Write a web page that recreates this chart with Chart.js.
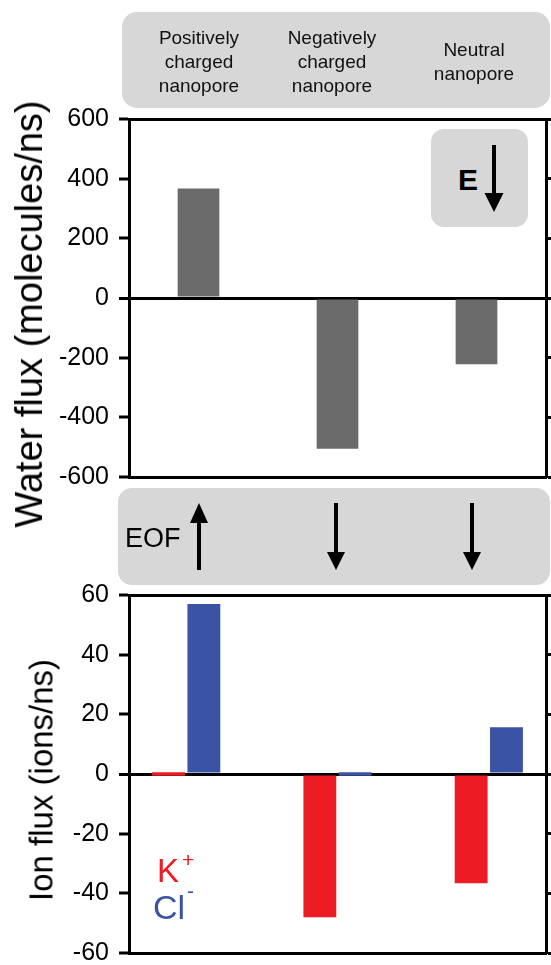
<!DOCTYPE html>
<html><head><meta charset="utf-8">
<script src="https://cdn.jsdelivr.net/npm/chart.js@4"></script>
<style>
html,body{margin:0;padding:0;width:551px;height:965px;overflow:hidden;background:#fff;font-family:"Liberation Sans",Arial,Helvetica,sans-serif;color:#000;}
.box{position:absolute;background:#d7d7d7;}
.abs{position:absolute;white-space:nowrap;}
.cw{position:absolute;left:0;width:551px;}
.lab{position:absolute;width:150px;text-align:center;font-size:19px;line-height:24px;color:#111;}
.rot{position:absolute;white-space:nowrap;transform:translate(-50%,-50%) rotate(-90deg);}
</style></head><body>

<div class="box" style="left:122px;top:12px;width:428px;height:96px;border-radius:15px;"></div>
<div class="box" style="left:118px;top:488px;width:432px;height:97px;border-radius:14px;"></div>

<div class="cw" style="top:0;height:500px;"><canvas id="c1" width="551" height="500"></canvas></div>
<div class="cw" style="top:540px;height:440px;"><canvas id="c2" width="551" height="440"></canvas></div>

<div class="box" style="left:431px;top:129px;width:97px;height:98px;border-radius:13px;"></div>

<div id="labels"></div>

<div class="rot" style="left:28.5px;top:314px;font-size:38px;line-height:38px;">Water flux (molecules/ns)</div>
<div class="rot" style="left:41px;top:780px;font-size:33px;line-height:33px;">Ion flux (ions/ns)</div>

<div class="abs" style="left:468px;top:180px;font-size:30px;line-height:30px;font-weight:bold;transform:translate(-50%,-50%);">E</div>
<div class="abs" style="left:125px;top:524.5px;font-size:27px;line-height:27px;">EOF</div>

<div class="abs" style="left:157px;top:854px;font-size:33px;line-height:33px;color:#ed1c24;">K<span style="position:relative;font-size:21px;top:-15px;left:3px;">+</span></div>
<div class="abs" style="left:153px;top:890px;font-size:34px;line-height:34px;color:#3a53a4;">Cl<span style="position:relative;font-size:21px;top:-21px;left:2px;">-</span></div>

<svg id="arrows" style="position:absolute;left:0;top:0;" width="551" height="965"></svg>

<script>
// ---- data ----
const categories = ['Positively charged nanopore', 'Negatively charged nanopore', 'Neutral nanopore'];
const categoryLines = [['Positively', 'charged', 'nanopore'], ['Negatively', 'charged', 'nanopore'], ['Neutral', 'nanopore']];
const waterFlux = [367, -505, -222];
const kFlux = [0, -48, -36.6];
const clFlux = [57, 0, 15.7];
const waterTicks = [600, 400, 200, 0, -200, -400, -600];
const ionTicks = [60, 40, 20, 0, -20, -40, -60];
const eofDirection = ['up', 'down', 'down'];
const fieldDirection = 'down';

// ---- category labels in the top box ----
const labelCenters = [199, 332, 474];
const labelsDiv = document.getElementById('labels');
categoryLines.forEach((lines, i) => {
  const d = document.createElement('div');
  d.className = 'lab';
  d.title = categories[i];
  d.style.left = (labelCenters[i] - 75) + 'px';
  d.style.top = (62 - lines.length * 12) + 'px';
  d.innerHTML = lines.join('<br>');
  labelsDiv.appendChild(d);
});

const FONT = '"Liberation Sans", Arial, Helvetica, sans-serif';

function yAxis(min, max, tickVals, width) {
  return {
    position: 'left', min, max,
    afterBuildTicks(s) { s.ticks = tickVals.map(v => ({ value: v })); },
    ticks: { font: { size: 25, family: FONT }, color: '#000', padding: 10 },
    grid: {
      drawOnChartArea: true, drawTicks: true, tickLength: 10, tickWidth: 3, tickColor: '#000',
      color: '#000',
      lineWidth: c => (c.tick && c.tick.value === 0) ? 3 : 0
    },
    border: { display: true, color: '#000', width: 3 },
    afterFit(s) { s.width = width; s.paddingTop = 0; s.paddingBottom = 0; }
  };
}
function yRight(min, max, tickVals) {
  return {
    position: 'right', min, max,
    afterBuildTicks(s) { s.ticks = tickVals.map(v => ({ value: v })); },
    ticks: { display: false },
    grid: { drawOnChartArea: false, drawTicks: true, tickLength: 6, tickWidth: 3, tickColor: '#000', color: '#000' },
    border: { display: true, color: '#000', width: 3 },
    afterFit(s) { s.width = 5; s.paddingTop = 0; s.paddingBottom = 0; }
  };
}
function xEdge(pos, h, extra) {
  return Object.assign({
    position: pos,
    grid: { display: false, drawTicks: false },
    ticks: { display: false },
    border: { display: true, color: '#000', width: 3 },
    afterFit(s) { s.height = h; s.paddingLeft = 0; s.paddingRight = 0; }
  }, extra || {});
}

const common = {
  responsive: false, animation: false, maintainAspectRatio: false,
  layout: { padding: 0 },
  plugins: { legend: { display: false }, tooltip: { enabled: false } }
};

// ---- top chart: water flux ----
const chart1 = new Chart(document.getElementById('c1'), {
  type: 'bar',
  data: {
    labels: categories,
    datasets: [{ data: waterFlux, backgroundColor: '#6b6b6b', borderWidth: 0, barPercentage: 0.30, categoryPercentage: 1 }]
  },
  options: Object.assign({}, common, {
    scales: {
      x: xEdge('bottom', 23, { type: 'category' }),
      xTop: xEdge('top', 119, { type: 'category' }),
      y: yAxis(-600, 600, waterTicks, 129),
      yR: yRight(-600, 600, waterTicks)
    }
  })
});

// ---- bottom chart: ion flux ----
const idx = categories.map((c, i) => i);
function linX(pos, h) {
  return xEdge(pos, h, {
    type: 'linear', min: -0.378, max: 2.378, offset: false,
    afterBuildTicks(s) { s.ticks = idx.map(v => ({ value: v })); }
  });
}
const chart2 = new Chart(document.getElementById('c2'), {
  type: 'bar',
  data: {
    datasets: [
      { label: 'K+', data: kFlux.map((v, i) => ({ x: i, y: v })), backgroundColor: '#ed1c24', borderWidth: 0,
        categoryPercentage: 0.467, barPercentage: 0.93, minBarLength: 3.5 },
      { label: 'Cl-', data: clFlux.map((v, i) => ({ x: i, y: v })), backgroundColor: '#3a53a4', borderWidth: 0,
        categoryPercentage: 0.467, barPercentage: 0.93, minBarLength: 3.5 }
    ]
  },
  options: Object.assign({}, common, {
    scales: {
      x: linX('bottom', 27),
      xTop: linX('top', 55),
      y: yAxis(-60, 60, ionTicks, 129),
      yR: yRight(-60, 60, ionTicks)
    }
  })
});

// ---- arrows (EOF and field direction) ----
const svg = document.getElementById('arrows');
const NS = 'http://www.w3.org/2000/svg';
function arrow(x, yTop, yBot, dir, headW, headH) {
  const g = document.createElementNS(NS, 'g');
  const line = document.createElementNS(NS, 'line');
  const poly = document.createElementNS(NS, 'polygon');
  line.setAttribute('x1', x); line.setAttribute('x2', x);
  line.setAttribute('stroke', '#000'); line.setAttribute('stroke-width', '4');
  if (dir === 'up') {
    line.setAttribute('y1', yTop + headH - 2); line.setAttribute('y2', yBot);
    poly.setAttribute('points', `${x},${yTop} ${x - headW / 2},${yTop + headH} ${x + headW / 2},${yTop + headH}`);
  } else {
    line.setAttribute('y1', yTop); line.setAttribute('y2', yBot - headH + 2);
    poly.setAttribute('points', `${x},${yBot} ${x - headW / 2},${yBot - headH} ${x + headW / 2},${yBot - headH}`);
  }
  poly.setAttribute('fill', '#000');
  g.appendChild(line); g.appendChild(poly);
  svg.appendChild(g);
}
const eofX = [199, 336, 472];
eofDirection.forEach((d, i) => arrow(eofX[i], 503, 570, d, 18, d === 'up' ? 20 : 18));
arrow(494, 145, 212, fieldDirection, 19, 19);
</script>
</body></html>
